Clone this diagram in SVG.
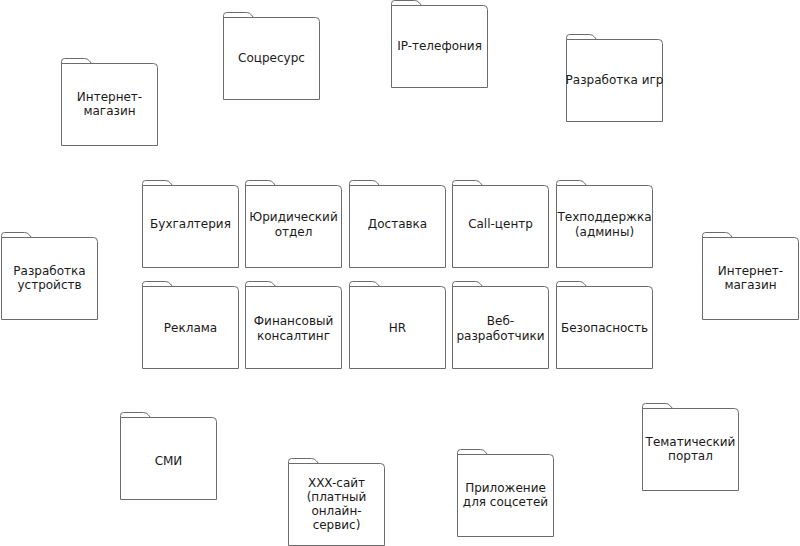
<svg xmlns="http://www.w3.org/2000/svg" xmlns:xlink="http://www.w3.org/1999/xlink" width="800" height="546" viewBox="0 0 800 546">
<style>
.f{fill:#fff;stroke:#6b6b6b;stroke-width:1}
.t{font-family:"DejaVu Sans",sans-serif;font-size:12px;fill:#1a1a1a;text-anchor:middle}
</style>
<defs>
<g id="folder">
<path class="f" d="M0,5 H92 Q96,5 96,9 V87 H0 Z"/>
<path class="f" d="M0,5 V3 Q0,0 3,0 H23 Q26,0 28,2.5 L30,5 Z"/>
</g>
</defs>
<rect width="800" height="546" fill="#fff"/>
<g id="connectors"/>
<g id="n-internet-left" transform="translate(61.5,58.5)"><use xlink:href="#folder"/><text class="t" x="48"><tspan x="48" y="42">Интернет-</tspan><tspan x="48" y="56">магазин</tspan></text></g>
<g id="n-socresurs" transform="translate(223.5,12.5)"><use xlink:href="#folder"/><text class="t" x="48" y="49">Соцресурс</text></g>
<g id="n-ip" transform="translate(391.5,0.5)"><use xlink:href="#folder"/><text class="t" x="48" y="49">IP-телефония</text></g>
<g id="n-games" transform="translate(566.5,34.5)"><use xlink:href="#folder"/><text class="t" x="48" y="49">Разработка игр</text></g>
<g id="n-devices" transform="translate(1.5,232.5)"><use xlink:href="#folder"/><text class="t" x="48"><tspan x="48" y="42">Разработка</tspan><tspan x="48" y="56">устройств</tspan></text></g>
<g id="n-internet-right" transform="translate(702.5,232.5)"><use xlink:href="#folder"/><text class="t" x="48"><tspan x="48" y="42">Интернет-</tspan><tspan x="48" y="56">магазин</tspan></text></g>
<g id="n-buh" transform="translate(142.5,180.5)"><use xlink:href="#folder"/><text class="t" x="48" y="47">Бухгалтерия</text></g>
<g id="n-legal" transform="translate(245.5,180.5)"><use xlink:href="#folder"/><text class="t" x="48"><tspan x="48" y="40">Юридический</tspan><tspan x="48" y="55">отдел</tspan></text></g>
<g id="n-delivery" transform="translate(349.5,180.5)"><use xlink:href="#folder"/><text class="t" x="48" y="47">Доставка</text></g>
<g id="n-call" transform="translate(452.5,180.5)"><use xlink:href="#folder"/><text class="t" x="48" y="47">Call-центр</text></g>
<g id="n-support" transform="translate(556.5,180.5)"><use xlink:href="#folder"/><text class="t" x="48"><tspan x="48" y="40">Техподдержка</tspan><tspan x="48" y="55">(админы)</tspan></text></g>
<g id="n-ads" transform="translate(142.5,281.5)"><use xlink:href="#folder"/><text class="t" x="48" y="50">Реклама</text></g>
<g id="n-finance" transform="translate(245.5,281.5)"><use xlink:href="#folder"/><text class="t" x="48"><tspan x="48" y="43">Финансовый</tspan><tspan x="48" y="58">консалтинг</tspan></text></g>
<g id="n-hr" transform="translate(349.5,281.5)"><use xlink:href="#folder"/><text class="t" x="48" y="50">HR</text></g>
<g id="n-web" transform="translate(452.5,281.5)"><use xlink:href="#folder"/><text class="t" x="48"><tspan x="48" y="43">Веб-</tspan><tspan x="48" y="58">разработчики</tspan></text></g>
<g id="n-security" transform="translate(556.5,281.5)"><use xlink:href="#folder"/><text class="t" x="48" y="50">Безопасность</text></g>
<g id="n-smi" transform="translate(120.5,412.5)"><use xlink:href="#folder"/><text class="t" x="48" y="52">СМИ</text></g>
<g id="n-xxx" transform="translate(288.5,458.5)"><use xlink:href="#folder"/><text class="t" x="48"><tspan x="48" y="28">XXX-сайт</tspan><tspan x="48" y="42">(платный</tspan><tspan x="48" y="56">онлайн-</tspan><tspan x="48" y="70">сервис)</tspan></text></g>
<g id="n-app" transform="translate(457.5,449.5)"><use xlink:href="#folder"/><text class="t" x="48"><tspan x="48" y="42">Приложение</tspan><tspan x="48" y="56">для соцсетей</tspan></text></g>
<g id="n-portal" transform="translate(642.5,403.5)"><use xlink:href="#folder"/><text class="t" x="48"><tspan x="48" y="42">Тематический</tspan><tspan x="48" y="56">портал</tspan></text></g>
</svg>
